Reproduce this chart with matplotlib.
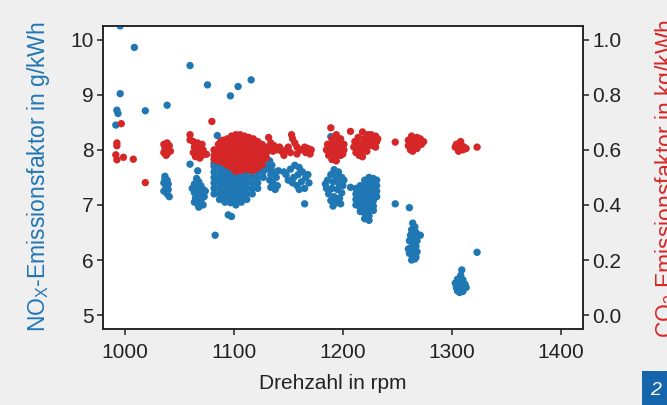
import numpy as np
import matplotlib.pyplot as plt
from matplotlib.patches import Rectangle

plt.rcParams['font.family'] = ['Liberation Sans', 'DejaVu Sans']
plt.rcParams['mathtext.fontset'] = 'custom'
plt.rcParams['mathtext.rm'] = 'Liberation Sans'

# NOx emission factor (rpm, g/kWh)
nox_points = [
    # scattered points
    (996, 10.25), (1009, 9.86), (996, 9.02), (993, 8.72), (994, 8.66), (992, 8.45),
    (1019, 8.71), (1039, 8.81), (1060, 9.53), (1076, 9.18), (1097, 8.98), (1104, 9.15),
    (1116, 9.27), (1085, 8.26), (1189, 8.24), (1060, 7.74), (1067, 7.62), (1083, 6.45),
    (1095, 6.82), (1098, 6.79), (1138, 7.30), (1165, 7.02), (1207, 7.32), (1248, 7.02),
    (1261, 6.95), (1323, 6.14), (1309, 5.82),
    # ~1038 rpm
    (1037, 7.52), (1039, 7.45), (1036, 7.40), (1038, 7.33), (1040, 7.28), (1036, 7.25),
    (1039, 7.20), (1041, 7.15), (1037, 7.47), (1040, 7.38),
    # ~1068 rpm
    (1066, 7.48), (1068, 7.42), (1064, 7.38), (1070, 7.35), (1066, 7.30), (1072, 7.28),
    (1064, 7.22), (1069, 7.20), (1073, 7.15), (1065, 7.12), (1070, 7.08), (1067, 7.02),
    (1072, 7.00), (1064, 7.05), (1068, 6.96), (1062, 7.30), (1074, 7.25),
    # ~1105 rpm, main block
    (1082, 7.20), (1082, 7.30), (1082, 7.40), (1082, 7.50), (1082, 7.60), (1082, 7.70), (1082, 7.75),
    (1087, 7.10), (1087, 7.20), (1087, 7.30), (1087, 7.40), (1087, 7.50), (1087, 7.60), (1087, 7.70),
    (1092, 7.05), (1092, 7.15), (1092, 7.25), (1092, 7.35), (1092, 7.45), (1092, 7.55), (1092, 7.65), (1092, 7.75),
    (1097, 7.04), (1097, 7.12), (1097, 7.22), (1097, 7.32), (1097, 7.42), (1097, 7.52), (1097, 7.62), (1097, 7.72),
    (1102, 7.00), (1102, 7.10), (1102, 7.20), (1102, 7.30), (1102, 7.40), (1102, 7.50), (1102, 7.60), (1102, 7.70),
    (1107, 7.05), (1107, 7.15), (1107, 7.25), (1107, 7.35), (1107, 7.45), (1107, 7.55), (1107, 7.65), (1107, 7.75),
    (1112, 7.10), (1112, 7.20), (1112, 7.30), (1112, 7.40), (1112, 7.50), (1112, 7.60), (1112, 7.70), (1112, 7.80),
    (1117, 7.20), (1117, 7.30), (1117, 7.40), (1117, 7.50), (1117, 7.60), (1117, 7.70), (1117, 7.80),
    (1122, 7.30), (1122, 7.40), (1122, 7.50), (1122, 7.60), (1122, 7.70), (1122, 7.80), (1122, 7.90),
    (1127, 7.50), (1127, 7.60), (1127, 7.70), (1127, 7.80), (1127, 7.90),
    (1130, 7.70), (1130, 7.85), (1130, 7.95),
    # ~1136 rpm
    (1133, 7.80), (1135, 7.72), (1132, 7.65), (1137, 7.60), (1134, 7.55), (1139, 7.50),
    (1133, 7.45), (1136, 7.40), (1140, 7.35), (1134, 7.32), (1138, 7.28), (1141, 7.62),
    # ~1158 rpm
    (1148, 7.55), (1152, 7.65), (1156, 7.72), (1160, 7.68), (1150, 7.45), (1155, 7.50),
    (1159, 7.55), (1163, 7.60), (1154, 7.40), (1158, 7.35), (1162, 7.42), (1166, 7.50),
    (1169, 7.40), (1160, 7.28), (1165, 7.30), (1168, 7.55), (1146, 7.60),
    # ~1193 rpm
    (1192, 7.64), (1196, 7.60), (1189, 7.55), (1194, 7.52), (1199, 7.50), (1186, 7.45),
    (1191, 7.42), (1196, 7.40), (1200, 7.35), (1185, 7.30), (1190, 7.30), (1195, 7.28),
    (1199, 7.22), (1187, 7.20), (1192, 7.15), (1197, 7.12), (1189, 7.08), (1194, 7.04),
    (1191, 6.98), (1198, 7.02), (1184, 7.38), (1201, 7.45),
    # ~1222 rpm
    (1212, 7.30), (1212, 7.20), (1212, 7.10), (1212, 7.00),
    (1216, 7.35), (1216, 7.25), (1216, 7.15), (1216, 7.05), (1216, 6.95), (1216, 6.88),
    (1220, 7.45), (1220, 7.35), (1220, 7.25), (1220, 7.15), (1220, 7.05), (1220, 6.95), (1220, 6.85), (1220, 6.75),
    (1224, 7.50), (1224, 7.40), (1224, 7.30), (1224, 7.20), (1224, 7.10), (1224, 7.00), (1224, 6.90), (1224, 6.80), (1224, 6.72),
    (1228, 7.48), (1228, 7.38), (1228, 7.28), (1228, 7.18), (1228, 7.08), (1228, 6.98), (1228, 6.90),
    (1231, 7.45), (1231, 7.35), (1231, 7.25), (1231, 7.15),
    # ~1265 rpm
    (1264, 6.67), (1266, 6.60), (1263, 6.55), (1267, 6.50), (1271, 6.45), (1262, 6.45),
    (1265, 6.40), (1268, 6.35), (1261, 6.35), (1264, 6.30), (1267, 6.25), (1262, 6.22),
    (1265, 6.18), (1268, 6.15), (1261, 6.12), (1264, 6.08), (1267, 6.05), (1263, 6.00),
    (1266, 6.02), (1260, 6.20),
    # ~1308 rpm
    (1308, 5.72), (1305, 5.65), (1310, 5.64), (1303, 5.58), (1307, 5.57), (1312, 5.56),
    (1304, 5.50), (1308, 5.49), (1313, 5.50), (1305, 5.44), (1310, 5.43), (1307, 5.41),
]

# CO2 emission factor (rpm, kg/kWh)
co2_points = [
    # scattered points
    (997, 0.695), (993, 0.625), (993, 0.615), (992, 0.582), (993, 0.564), (999, 0.573),
    (1008, 0.566), (1019, 0.481), (1080, 0.703), (1060, 0.655), (1060, 0.636), (1075, 0.584),
    (1088, 0.630), (1189, 0.680), (1207, 0.667), (1248, 0.628), (1323, 0.610),
    # ~1038 rpm
    (1036, 0.620), (1039, 0.625), (1041, 0.615), (1037, 0.605), (1040, 0.600), (1036, 0.590),
    (1039, 0.585), (1042, 0.595), (1038, 0.580),
    # ~1067 rpm
    (1063, 0.630), (1067, 0.625), (1071, 0.620), (1064, 0.610), (1068, 0.605), (1072, 0.600),
    (1063, 0.590), (1067, 0.585), (1071, 0.580), (1065, 0.575), (1069, 0.570),
    # ~1105 rpm, main block
    (1082, 0.600), (1082, 0.580), (1082, 0.565),
    (1086, 0.620), (1086, 0.600), (1086, 0.580), (1086, 0.560),
    (1090, 0.635), (1090, 0.615), (1090, 0.595), (1090, 0.575), (1090, 0.555),
    (1094, 0.640), (1094, 0.620), (1094, 0.600), (1094, 0.580), (1094, 0.560), (1094, 0.545),
    (1098, 0.650), (1098, 0.630), (1098, 0.610), (1098, 0.590), (1098, 0.570), (1098, 0.550), (1098, 0.535),
    (1102, 0.655), (1102, 0.635), (1102, 0.615), (1102, 0.595), (1102, 0.575), (1102, 0.555), (1102, 0.535), (1102, 0.522),
    (1106, 0.655), (1106, 0.635), (1106, 0.615), (1106, 0.595), (1106, 0.575), (1106, 0.555), (1106, 0.535), (1106, 0.525),
    (1110, 0.650), (1110, 0.630), (1110, 0.610), (1110, 0.590), (1110, 0.570), (1110, 0.550), (1110, 0.530),
    (1114, 0.645), (1114, 0.625), (1114, 0.605), (1114, 0.585), (1114, 0.565), (1114, 0.545), (1114, 0.528),
    (1118, 0.640), (1118, 0.620), (1118, 0.600), (1118, 0.580), (1118, 0.560), (1118, 0.540), (1118, 0.525),
    (1122, 0.630), (1122, 0.610), (1122, 0.590), (1122, 0.570), (1122, 0.550), (1122, 0.535),
    (1126, 0.620), (1126, 0.600), (1126, 0.580), (1126, 0.560), (1126, 0.545),
    (1130, 0.610), (1130, 0.590), (1130, 0.570),
    # ~1150 rpm
    (1132, 0.645), (1134, 0.625), (1133, 0.605), (1137, 0.615), (1136, 0.595), (1140, 0.600),
    (1144, 0.595), (1148, 0.600), (1146, 0.580), (1152, 0.590), (1150, 0.610), (1154, 0.640),
    (1156, 0.625), (1158, 0.610), (1153, 0.655), (1160, 0.600), (1158, 0.585), (1162, 0.600),
    (1165, 0.610), (1168, 0.605), (1171, 0.600), (1166, 0.590), (1170, 0.585), (1142, 0.610),
    # ~1193 rpm
    (1186, 0.620), (1185, 0.600), (1187, 0.580), (1190, 0.640), (1190, 0.620), (1190, 0.600),
    (1190, 0.580), (1190, 0.565), (1194, 0.655), (1194, 0.635), (1194, 0.615), (1194, 0.595),
    (1194, 0.575), (1194, 0.560), (1198, 0.640), (1198, 0.620), (1198, 0.600), (1198, 0.580),
    (1201, 0.620), (1201, 0.600), (1200, 0.585),
    # ~1220 rpm
    (1210, 0.610), (1211, 0.630), (1212, 0.590), (1214, 0.645), (1215, 0.620), (1215, 0.600),
    (1215, 0.580), (1218, 0.665), (1219, 0.640), (1219, 0.620), (1219, 0.600), (1218, 0.575),
    (1223, 0.655), (1223, 0.635), (1223, 0.615), (1222, 0.595), (1226, 0.655), (1227, 0.635),
    (1227, 0.615), (1230, 0.650), (1231, 0.630), (1230, 0.610), (1232, 0.640),
    # ~1266 rpm
    (1260, 0.635), (1260, 0.615), (1263, 0.650), (1264, 0.630), (1264, 0.610), (1264, 0.595),
    (1268, 0.645), (1268, 0.625), (1268, 0.605), (1271, 0.640), (1272, 0.620), (1274, 0.630),
    (1262, 0.600),
    # ~1308 rpm
    (1303, 0.610), (1304, 0.620), (1306, 0.605), (1307, 0.625), (1309, 0.615), (1311, 0.610),
    (1306, 0.595), (1310, 0.600), (1313, 0.605), (1308, 0.630),
]

x_ticks = [1000, 1100, 1200, 1300, 1400]
nox_ticks = [5, 6, 7, 8, 9, 10]
co2_ticks = [0.0, 0.2, 0.4, 0.6, 0.8, 1.0]

blue = '#1f77b4'
red = '#d62728'
dark = '#222222'

nox = np.array(nox_points)
co2 = np.array(co2_points)

fig = plt.figure(figsize=(6.67, 4.05), dpi=100, facecolor='#efefef')
ax = fig.add_axes([0.154, 0.188, 0.72, 0.748])
ax2 = ax.twinx()

ax.scatter(nox[:, 0], nox[:, 1], s=28, color=blue, edgecolors='none', zorder=3)
ax2.scatter(co2[:, 0], co2[:, 1], s=28, color=red, edgecolors='none', zorder=3)

ax.set_xlim(980, 1420)
ax.set_ylim(4.75, 10.25)
ax2.set_ylim(-0.05, 1.05)
ax.set_xticks(x_ticks)
ax.set_yticks(nox_ticks)
ax2.set_yticks(co2_ticks)
ax2.set_yticklabels([f'{v:.1f}' for v in co2_ticks])

for a in (ax, ax2):
    for sp in a.spines.values():
        sp.set_color(dark)
        sp.set_linewidth(1.1)
    a.tick_params(direction='out', length=4.5, width=1.1, colors=dark,
                  labelsize=15, pad=2)
ax.tick_params(axis='x', pad=6)

ax.set_xlabel('Drehzahl in rpm', fontsize=15, color=dark)
ax.xaxis.set_label_coords(0.48, -0.15, transform=ax.transAxes)
ax.xaxis.label.set_va('top')

fig.text(0.057, 0.565, r'NO$_\mathrm{X}$-Emissionsfaktor in g/kWh', rotation=90,
         ha='center', va='center', fontsize=16.5, color=blue)
fig.text(1.0, 0.56, r'CO$_\mathrm{2}$ Emissionsfaktor in kg/kWh', rotation=90,
         ha='center', va='center', fontsize=16.5, color=red)

# cropped page badge in the corner
fig.patches.append(Rectangle((0.962, 0.0), 0.05, 0.083, transform=fig.transFigure,
                             facecolor='#1565ad', edgecolor='none'))
fig.text(0.975, 0.025, '2', color='white', fontsize=14, fontstyle='italic')

fig.savefig('out.png', dpi=100, facecolor=fig.get_facecolor())
